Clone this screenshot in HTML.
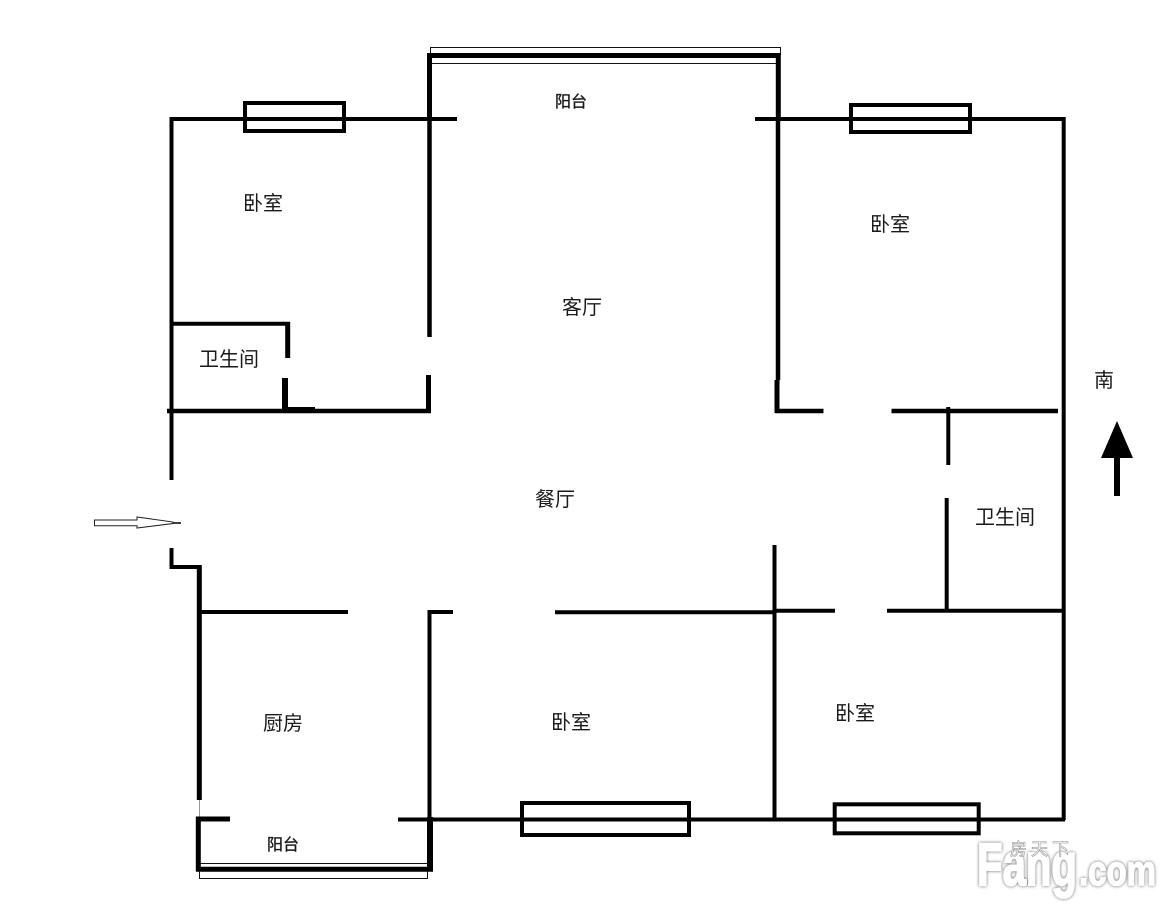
<!DOCTYPE html>
<html>
<head>
<meta charset="utf-8">
<style>
html,body{margin:0;padding:0;background:#fff}
svg{display:block}
text{font-family:"Liberation Sans","Noto Sans CJK SC",sans-serif;fill:#1a1a1a}
</style>
</head>
<body>
<svg width="1173" height="907" viewBox="0 0 1173 907" xmlns="http://www.w3.org/2000/svg">
<rect width="1173" height="907" fill="#fff"/>
<!-- thin balcony outlines -->
<g stroke="#111" fill="none" stroke-width="1">
<path d="M430.5 55V47.5H780.5V55"/>
<path d="M430 63.5H778"/>
<path d="M199 863.5H428"/>
<path d="M199.5 871V878.5H427.5V871"/>
</g>
<g stroke="#000" fill="none" stroke-width="4">
<!-- top balcony -->
<path d="M427 55.5H780" stroke-width="5"/>
<path d="M429.5 53V119" stroke-width="5"/>
<path d="M778.3 53V119" stroke-width="5"/>
<!-- top-left bedroom -->
<path d="M170 119H457"/>
<path d="M171.5 117V480"/>
<rect x="245" y="103" width="99" height="28"/>
<path d="M429.5 119V337" stroke-width="4.5"/>
<path d="M428.5 375V413" stroke-width="5"/>
<path d="M171 323.7H290"/>
<path d="M287.7 322V358" stroke-width="5"/>
<path d="M285 378V411" stroke-width="6"/>
<path d="M167 411H431" stroke-width="4.5"/>
<path d="M285 409H315" stroke-width="4"/>
<!-- entry -->
<path d="M171.5 548V567H199" stroke-width="4"/>
<path d="M199.3 565V800" stroke-width="5"/>
<path d="M199.5 800V818" stroke="#999" stroke-width="1"/>
<!-- top right -->
<path d="M755 119H1065"/>
<rect x="851" y="105" width="119" height="27"/>
<path d="M1063.7 117V820"/>
<path d="M778 119V380" stroke-width="4.5"/>
<path d="M777 380V413" stroke-width="5"/>
<path d="M775 411H823.5" stroke-width="4.5"/>
<path d="M891.5 411H1058" stroke-width="4.5"/>
<path d="M948.3 407V465"/>
<path d="M946.7 498V611"/>
<!-- middle -->
<path d="M774.5 545V820"/>
<path d="M555 612.3H775"/>
<path d="M775 610.7H835"/>
<path d="M887 610.7H1065"/>
<path d="M197 612H348"/>
<path d="M453 612H429.5V820"/>
<!-- bottom -->
<path d="M398 819.5H1065"/>
<rect x="522" y="803" width="167" height="32"/>
<rect x="834.7" y="804.3" width="144" height="29"/>
<!-- bottom balcony -->
<path d="M230 819H198.3V871.5" stroke-width="5"/>
<path d="M430 817V871.5" stroke-width="6"/>
<path d="M196 869.3H433" stroke-width="5"/>
</g>
<!-- entry arrow -->
<path d="M94.5 520H137V517L173 522V523.5L137 528V525.7H94.5Z" fill="#fff" stroke="#222" stroke-width="1"/>
<path d="M173 523H181" stroke="#000" stroke-width="1.5"/>
<!-- south arrow -->
<path d="M1117 421L1133 458H1120V496H1114V458H1101Z" fill="#000"/>
<g font-size="20">
<text x="243" y="210">卧室</text>
<text x="870" y="231">卧室</text>
<text x="562" y="314">客厅</text>
<text x="199" y="366">卫生间</text>
<text x="535" y="506">餐厅</text>
<text x="975" y="524">卫生间</text>
<text x="263" y="730">厨房</text>
<text x="551" y="729">卧室</text>
<text x="835" y="720">卧室</text>
<text x="1094" y="387">南</text>
</g>
<text x="555" y="107" font-size="16" style="stroke:#111;stroke-width:.3">阳台</text>
<text x="267" y="850" font-size="16" style="stroke:#111;stroke-width:.3">阳台</text>
<!-- watermark -->
<g style="filter:drop-shadow(0 0 1.5px #666)">
<text x="977" y="885" font-size="60" font-weight="bold" textLength="100" lengthAdjust="spacingAndGlyphs" style="fill:#fff;stroke:#fff;stroke-width:2">Fang</text>
<text x="1079" y="885" font-size="42" font-weight="bold" textLength="77" lengthAdjust="spacingAndGlyphs" style="fill:#fff;stroke:#fff;stroke-width:1.5">.com</text>
</g>
<text x="1010" y="855" font-size="17" letter-spacing="4" style="fill:#fff;stroke:#888;stroke-width:.5">房天下</text>
</svg>
</body>
</html>
